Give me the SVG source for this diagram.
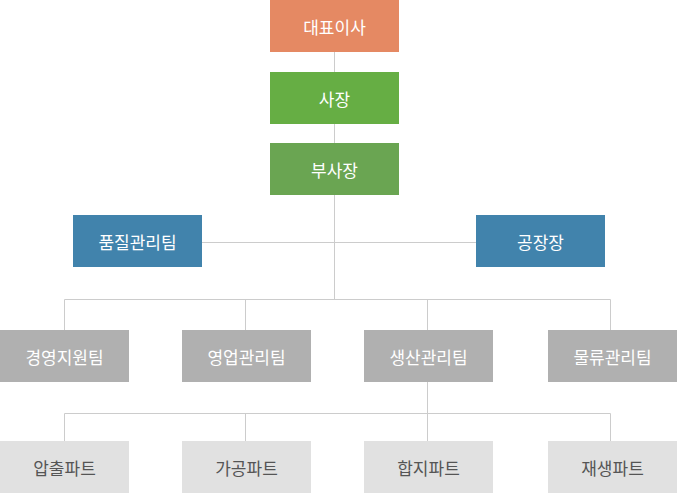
<svg xmlns="http://www.w3.org/2000/svg" width="677" height="493" viewBox="0 0 677 493">
<style>
text{font-family:"Noto Sans CJK KR","Noto Sans",sans-serif;font-size:17px;font-weight:400;text-anchor:middle;dominant-baseline:central}
.w{fill:#ffffff}
.d{fill:#555555}
.ln{stroke:#cccccc;stroke-width:1;fill:none}
</style>
<rect width="677" height="493" fill="#ffffff"/>
<g id="connectors" class="ln">
<path d="M334.5 52V299.5"/>
<path d="M202 242.5H476"/>
<path d="M64.5 330V299.5H610.5V330"/>
<path d="M245.5 299.5V330"/>
<path d="M427.5 299.5V330"/>
<path d="M427.5 382V413.5"/>
<path d="M64.5 441V413.5H610.5V441"/>
<path d="M245.5 413.5V441"/>
<path d="M427.5 413.5V441"/>
</g>
<g id="ceo"><rect x="270" y="0" width="129" height="52" fill="#e58963"/><text x="334.5" y="26" class="w">대표이사</text></g>
<g id="president"><rect x="270" y="72" width="129" height="52" fill="#66ae44"/><text x="334.5" y="98" class="w">사장</text></g>
<g id="vp"><rect x="270" y="143" width="129" height="52" fill="#6aa552"/><text x="334.5" y="169" class="w">부사장</text></g>
<g id="qa"><rect x="73" y="215" width="129" height="52" fill="#4183ac"/><text x="137.5" y="241" class="w">품질관리팀</text></g>
<g id="plant"><rect x="476" y="215" width="129" height="52" fill="#4183ac"/><text x="540.5" y="241" class="w">공장장</text></g>
<g id="support"><rect x="0" y="330" width="129" height="52" fill="#b0b0b0"/><text x="64.5" y="356" class="w">경영지원팀</text></g>
<g id="sales"><rect x="182" y="330" width="129" height="52" fill="#b0b0b0"/><text x="246.5" y="356" class="w">영업관리팀</text></g>
<g id="production"><rect x="364" y="330" width="129" height="52" fill="#b0b0b0"/><text x="428.5" y="356" class="w">생산관리팀</text></g>
<g id="logistics"><rect x="548" y="330" width="129" height="52" fill="#b0b0b0"/><text x="612.5" y="356" class="w">물류관리팀</text></g>
<g id="extrusion"><rect x="0" y="441" width="129" height="52" fill="#e1e1e1"/><text x="64.5" y="467" class="d">압출파트</text></g>
<g id="processing"><rect x="182" y="441" width="129" height="52" fill="#e1e1e1"/><text x="246.5" y="467" class="d">가공파트</text></g>
<g id="laminating"><rect x="364" y="441" width="129" height="52" fill="#e1e1e1"/><text x="428.5" y="467" class="d">합지파트</text></g>
<g id="recycling"><rect x="548" y="441" width="129" height="52" fill="#e1e1e1"/><text x="612.5" y="467" class="d">재생파트</text></g>
</svg>
